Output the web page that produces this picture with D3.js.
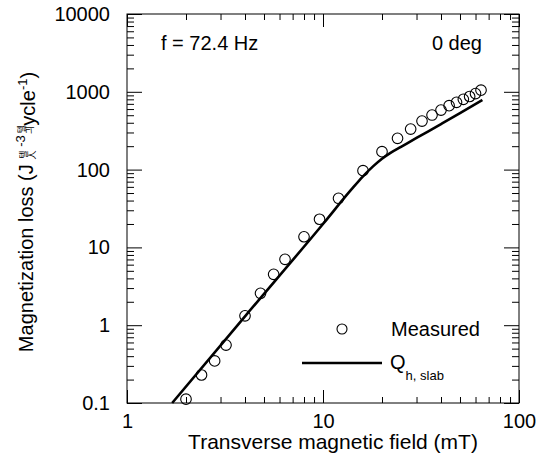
<!DOCTYPE html>
<html>
<head>
<meta charset="utf-8">
<script src="https://cdn.jsdelivr.net/npm/d3@7"></script>
<style>
	body { margin: 0; background: #fff; }
	svg text { font-family: Arial, "Liberation Sans", sans-serif; fill: #000; }
</style>
</head>
<body>
<div id="graphicContainer"></div>
<script>
// measured points
var fieldMT = [2, 2.4, 2.8, 3.2, 4, 4.8, 5.6, 6.4, 8, 9.6, 12, 16, 20, 24, 28, 32, 36, 40, 44, 48, 52, 56, 60, 64]
var measuredLoss = [0.112, 0.229, 0.347, 0.556, 1.32, 2.57, 4.51, 7.03, 13.7, 23.0, 42.8, 96.8, 170, 252, 332, 421, 503, 583, 663, 733, 801, 870, 950, 1050]

// Q_h,slab curve
var slabField = [1.7, 4, 10, 14, 16, 18, 20, 22, 25, 30, 40, 50, 65]
var slabLoss = [0.1, 1.3, 20, 56, 82, 110, 138, 163, 196, 255, 385, 532, 786]

var xTicks = [1, 10, 100]
var yTicks = [0.1, 1, 10, 100, 1000, 10000]

function init() {
	var margin = {top: 14, right: 31, bottom: 62, left: 127}
	var width = 550 - margin.left - margin.right
	var height = 465 - margin.top - margin.bottom

	var svg = d3.select("#graphicContainer").append("svg")
		.attr("width", 550)
		.attr("height", 465)

	var features = svg.append("g").attr("transform", "translate(" + margin.left + "," + margin.top + ")")

	var x = d3.scaleLog().domain([1, 100]).range([0, width])
	var y = d3.scaleLog().domain([0.1, 10000]).range([height, 0])

	var xMinor = []
	var yMinor = []
	;[1, 10].forEach(function(d) { for (var i = 2; i < 10; i++) xMinor.push(d * i) })
	;[0.1, 1, 10, 100, 1000].forEach(function(d) { for (var i = 2; i < 10; i++) yMinor.push(d * i) })

	function styleAxis(g) {
		g.select(".domain").remove()
		g.selectAll("line").attr("stroke", "#000").attr("stroke-width", 1)
		g.selectAll("text").style("font-size", "20px")
	}

	// bottom
	features.append("g").attr("transform", "translate(0," + height + ")")
		.call(d3.axisBottom(x).tickValues(xMinor).tickSize(-6).tickFormat(""))
		.call(styleAxis)
	features.append("g").attr("transform", "translate(0," + height + ")")
		.call(d3.axisBottom(x).tickValues(xTicks).tickSize(-13).tickPadding(11).tickFormat(function(d) { return d }))
		.call(styleAxis)
	// top
	features.append("g")
		.call(d3.axisTop(x).tickValues(xMinor).tickSize(-6).tickFormat(""))
		.call(styleAxis)
	features.append("g")
		.call(d3.axisTop(x).tickValues(xTicks).tickSize(-13).tickFormat(""))
		.call(styleAxis)
	// left
	features.append("g")
		.call(d3.axisLeft(y).tickValues(yMinor).tickSize(-7).tickFormat(""))
		.call(styleAxis)
	features.append("g")
		.call(d3.axisLeft(y).tickValues(yTicks).tickSize(-15).tickPadding(17).tickFormat(function(d) { return d }))
		.call(styleAxis)
	// right
	features.append("g").attr("transform", "translate(" + width + ",0)")
		.call(d3.axisRight(y).tickValues(yMinor).tickSize(-7).tickFormat(""))
		.call(styleAxis)
	features.append("g").attr("transform", "translate(" + width + ",0)")
		.call(d3.axisRight(y).tickValues(yTicks).tickSize(-15).tickFormat(""))
		.call(styleAxis)

	features.append("rect")
		.attr("width", width)
		.attr("height", height)
		.attr("fill", "none")
		.attr("stroke", "#000")
		.attr("stroke-width", 1)

	var slab = slabField.map(function(d, i) { return [d, slabLoss[i]] })
	var line = d3.line()
		.x(function(d) { return x(d[0]) })
		.y(function(d) { return y(d[1]) })
		.curve(d3.curveMonotoneX)

	features.append("path")
		.datum(slab)
		.attr("d", line)
		.attr("fill", "none")
		.attr("stroke", "#000")
		.attr("stroke-width", 2.6)

	features.selectAll(".pt")
		.data(fieldMT)
		.enter().append("circle")
		.attr("class", "pt")
		.attr("cx", function(d) { return x(d) })
		.attr("cy", function(d, i) { return y(measuredLoss[i]) })
		.attr("r", 5.3)
		.attr("fill", "none")
		.attr("stroke", "#000")
		.attr("stroke-width", 1.1)

	// annotations
	svg.append("text").attr("x", 161).attr("y", 50).style("font-size", "20px").text("f = 72.4 Hz")
	svg.append("text").attr("x", 482).attr("y", 50).attr("text-anchor", "end").style("font-size", "20px").text("0 deg")

	// legend
	svg.append("circle").attr("cx", 342).attr("cy", 329).attr("r", 5).attr("fill", "none").attr("stroke", "#000").attr("stroke-width", 1.1)
	svg.append("text").attr("x", 391).attr("y", 336).style("font-size", "20px").text("Measured")
	svg.append("line").attr("x1", 302).attr("x2", 382).attr("y1", 363).attr("y2", 363).attr("stroke", "#000").attr("stroke-width", 2.6)
	var q = svg.append("text").attr("x", 390).attr("y", 369).style("font-size", "20px")
	q.append("tspan").text("Q")
	q.append("tspan").attr("dy", 11).style("font-size", "13px").text("h, slab")

	// axis titles
	svg.append("text")
		.attr("x", 333).attr("y", 449)
		.attr("text-anchor", "middle")
		.style("font-size", "21px")
		.text("Transverse magnetic field (mT)")

	var yl = svg.append("text")
		.attr("transform", "translate(33,212) rotate(-90)")
		.attr("text-anchor", "middle")
		.style("font-size", "20px")
	yl.append("tspan").text("Magnetization loss (J ")
	yl.append("tspan").attr("dy", -6).style("font-size", "9px").style("font-family", "'Noto Sans CJK KR'").text("텔")
	yl.append("tspan").attr("dx", -9).attr("dy", 8).style("font-size", "9px").style("font-family", "'Noto Sans CJK KR'").text("人")
	yl.append("tspan").attr("dy", -10).style("font-size", "13px").text(" -3")
	yl.append("tspan").attr("dy", 0).style("font-size", "9px").style("font-family", "'Noto Sans CJK KR'").text(" 텔")
	yl.append("tspan").attr("dx", -9).attr("dy", 8).style("font-size", "9px").style("font-family", "'Noto Sans CJK KR'").text("긔")
	yl.append("tspan").attr("dy", 2).text("ycle")
	yl.append("tspan").attr("dy", -8).style("font-size", "13px").text("-1")
	yl.append("tspan").attr("dy", 8).text(")")
}

init()
</script>
</body>
</html>
